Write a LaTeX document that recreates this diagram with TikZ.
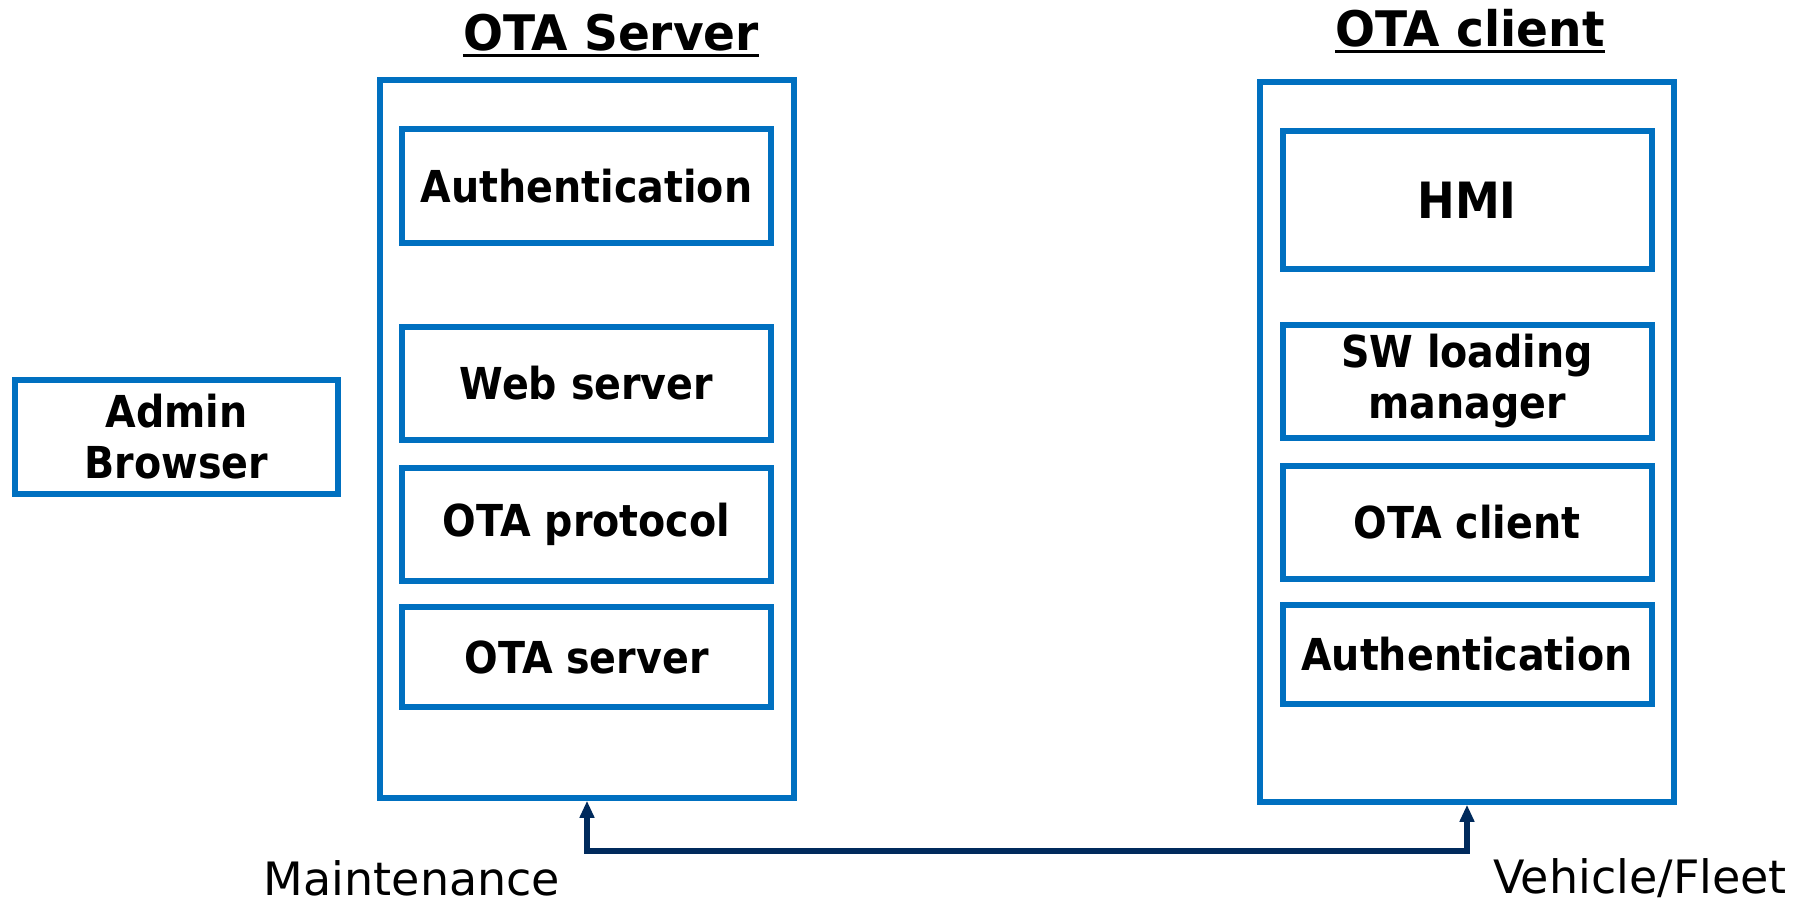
\documentclass[tikz,border=0pt]{standalone}
\usepackage{fontspec}
\setmainfont{DejaVu Sans}
\newfontfamily\bfam{DejaVu Sans}[FakeStretch=0.9]
\newfontfamily\tfam{DejaVu Sans}[FakeStretch=0.96]
\usetikzlibrary{arrows.meta}
\definecolor{boxblue}{HTML}{0070C0}
\definecolor{navy}{HTML}{002A5C}
\begin{document}
\begin{tikzpicture}[x=1pt,y=-1pt,
  outerbox/.style={draw=boxblue, line width=5.5pt, rectangle, inner sep=0pt},
  innerbox/.style={draw=boxblue, line width=6pt, rectangle, inner sep=0pt, minimum width=369pt,
     font=\bfam\bfseries\fontsize{44}{51}\selectfont, align=center},
  titletext/.style={inner sep=0pt, font=\tfam\bfseries\fontsize{49}{56}\selectfont, anchor=base},
  undl/.style={line width=3pt},
  plaintext/.style={inner sep=0pt, font=\fontsize{46}{52}\selectfont},
  link/.style={draw=navy, line width=6pt, {Triangle[length=17pt,width=14pt]}-{Triangle[length=17pt,width=14pt]}}
]
\useasboundingbox (0,0) rectangle (1800,905);
\fill[white] (0,0) rectangle (1800,905);

% titles
\node[titletext] (tsrv) at (611,50) {OTA Server};
\draw[undl] ([yshift=-5pt]tsrv.base west) -- ([yshift=-5pt]tsrv.base east);
\node[titletext] (tcli) at (1470,46) {OTA client};
\draw[undl] ([yshift=-5pt]tcli.base west) -- ([yshift=-5pt]tcli.base east);

% outer boxes
\node[outerbox, minimum width=414pt, minimum height=718pt] (srv) at (587,439) {};
\node[outerbox, minimum width=414pt, minimum height=720pt] (cli) at (1467,442) {};

% server components
\node[innerbox, minimum height=114pt] (sauth) at (586.5,186) {Authentication};
\node[innerbox, minimum height=113pt] (sweb) at (586.5,383.5) {Web server};
\node[innerbox, minimum height=113pt] (sprot) at (586.5,524.5) {OTA protocol};
\node[innerbox, minimum height=100pt] (sota) at (586.5,657) {OTA server};

% admin browser
\node[innerbox, minimum width=323pt, minimum height=114pt] (admin) at (176.5,437) {Admin\\Browser};

% client components
\node[innerbox, minimum height=138pt, font=\bfam\bfseries\fontsize{50}{56}\selectfont] (hmi) at (1467,200) {HMI};
\node[innerbox, minimum height=113pt] (swl) at (1467,381.5) {SW loading\\manager};
\node[innerbox, minimum height=113pt] (cota) at (1467,522.5) {OTA client};
\node[innerbox, minimum height=99pt] (cauth) at (1467,654.5) {Authentication};

% connection
\coordinate (bend) at (587,851);
\draw[link] (srv.south) -- (bend) -| (cli.south);

% labels
\node[plaintext] (lmaint) at (412,878) {Maintenance};
\node[plaintext] (lveh) at (1640,878) {Vehicle/Fleet};
\end{tikzpicture}
\end{document}
